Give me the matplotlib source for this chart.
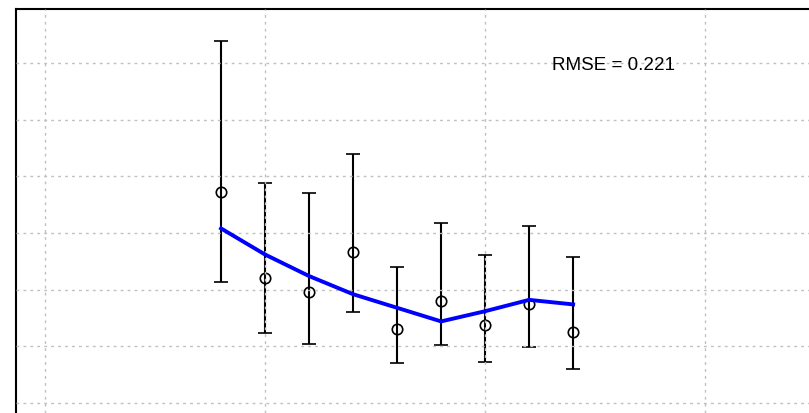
import matplotlib
matplotlib.use("Agg")
import matplotlib.pyplot as plt

plt.rcParams['font.family'] = ['Liberation Sans', 'DejaVu Sans']

# observed means with lower / upper bounds, and the fitted curve
x = [4, 5, 6, 7, 8, 9, 10, 11, 12]
obs = [1.86, 1.10, 0.98, 1.33, 0.65, 0.90, 0.69, 0.87, 0.63]
upper = [3.19, 1.94, 1.85, 2.20, 1.20, 1.59, 1.31, 1.56, 1.29]
lower = [1.07, 0.62, 0.52, 0.80, 0.35, 0.51, 0.36, 0.49, 0.30]
fitted = [1.54, 1.31, 1.12, 0.96, 0.84, 0.72, 0.81, 0.91, 0.87]
rmse = 0.221

fig = plt.figure(figsize=(8.09, 4.14), dpi=100)
ax = fig.add_axes([16 / 809, 0, 1 - 16 / 809, 1 - 10 / 414])

err = [[o - l for o, l in zip(obs, lower)], [u - o for o, u in zip(obs, upper)]]
ax.errorbar(x, obs, yerr=err, fmt='o', mfc='none', mec='black', ms=7.5, mew=1.2,
            ecolor='black', elinewidth=1.5, capsize=4.7, capthick=1.5, zorder=2)
ax.plot(x, fitted, color='#0000ff', lw=2.8, zorder=3)

ax.text(11.52, 2.99, "RMSE = %.3f" % rmse, fontsize=13.6, ha='left', va='center', zorder=4)

ax.set_xlim(-0.66, 17.36)
ax.set_ylim(-0.088, 3.476)
ax.set_xticks([0, 5, 10, 15])
ax.set_yticks([0, 0.5, 1.0, 1.5, 2.0, 2.5, 3.0])
ax.tick_params(length=0, labelleft=False, labelbottom=False)
ax.set_axisbelow(False)
ax.grid(True, color='#c0c0c0', ls=(0, (2, 3)), lw=1.0)
for g in ax.get_xgridlines() + ax.get_ygridlines():
    g.set_zorder(2.5)

ax.spines['right'].set_visible(False)
ax.spines['bottom'].set_visible(False)
ax.spines['left'].set_linewidth(1.5)
ax.spines['top'].set_linewidth(1.5)

fig.savefig("out.png", dpi=100)
